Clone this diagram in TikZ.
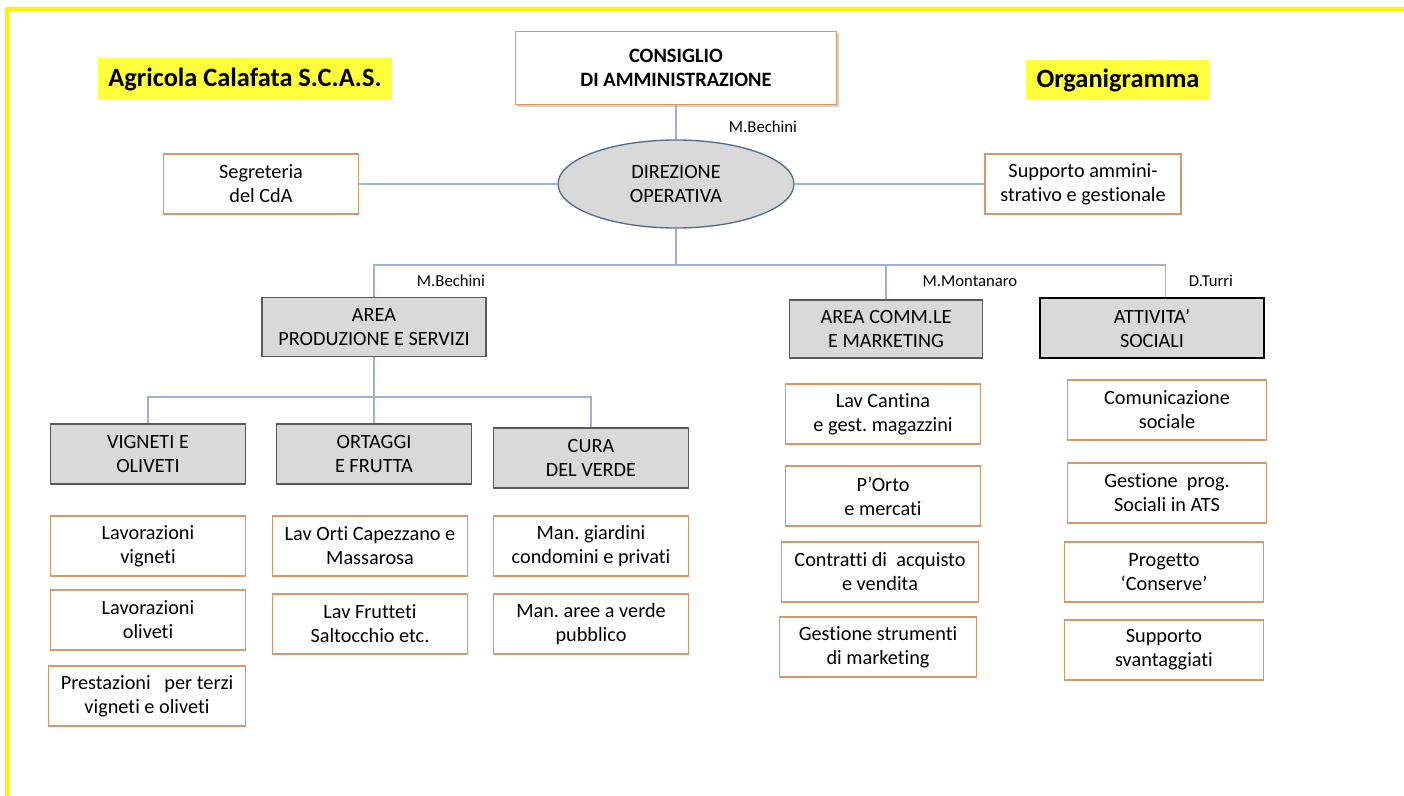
\documentclass[tikz,border=0pt]{standalone}
\usepackage{fontspec}
\setmainfont{Carlito}[Ligatures={TeX,NoCommon}]
\frenchspacing
\usepackage{tikz}
\usetikzlibrary{shapes.geometric, shadows}

\definecolor{boxOrange}{RGB}{217,150,104}
\definecolor{boxGray}{RGB}{217,217,217}
\definecolor{lineBlue}{RGB}{155,180,212}
\definecolor{ellBorder}{RGB}{80,108,150}
\definecolor{titleYellow}{RGB}{255,255,60}

\begin{document}
\begin{tikzpicture}[x=0.75pt, y=-0.75pt]
  \tikzstyle{myBox}=[draw=boxOrange, line width=1.1pt, fill=white, align=center, minimum width=146pt, minimum height=45pt, inner sep=1pt, font=\fontsize{15.2}{18}\selectfont]
  \tikzstyle{myArea}=[myBox, draw=black!65, line width=0.9pt, fill=boxGray]
  \tikzstyle{myTitle}=[fill=titleYellow, inner sep=0pt, font=\fontsize{19.8}{23}\selectfont\bfseries]
  \tikzstyle{myName}=[font=\fontsize{12.5}{15}\selectfont]
  \tikzstyle{myLine}=[draw=lineBlue, line width=1pt]

  \useasboundingbox (0,0) rectangle (1404,796);
  \fill[white] (0,0) rectangle (1404,796);
  \draw[yellow, line width=3pt] (1404,9) -- (7,9) -- (7,796);

  % titoli
  \node[myTitle, minimum width=221pt, minimum height=31.5pt] (titolo) at (245,79) {Agricola Calafata S.C.A.S.};
  \node[myTitle, minimum width=138pt, minimum height=30pt] (organigramma) at (1118,80) {Organigramma};

  % vertice
  \node[myBox, minimum width=241pt, minimum height=55pt, font=\fontsize{15.3}{18}\selectfont\bfseries,
        drop shadow={opacity=0.35, shadow xshift=1.5pt, shadow yshift=-1.5pt}] (cda) at (676,68) {CONSIGLIO\\DI AMMINISTRAZIONE};
  \node[ellipse, draw=ellBorder, fill=boxGray, line width=1pt, minimum width=177pt, minimum height=66pt,
        align=center, font=\fontsize{15.2}{18}\selectfont] (dir) at (676,184) {DIREZIONE\\OPERATIVA};
  \node[myBox] (segr) at (261,184) {Segreteria\\del CdA};
  \node[myBox, minimum width=147pt] (supp) at (1083,184) {Supporto ammini-\\strativo e gestionale};

  % aree
  \node[myArea, minimum width=168pt, minimum height=44pt] (prod) at (374,327) {AREA\\PRODUZIONE E SERVIZI};
  \node[myArea, minimum width=145pt, minimum height=43.5pt] (comm) at (886,329) {AREA COMM.LE\\E MARKETING};
  \node[myArea, draw=black, line width=2pt, minimum width=168pt] (soc) at (1152,328) {ATTIVITA’\\SOCIALI};

  \node[myArea] (vign) at (148,454) {VIGNETI E\\OLIVETI};
  \node[myArea] (ort) at (374,454) {ORTAGGI\\E FRUTTA};
  \node[myArea] (cura) at (591,458) {CURA\\DEL VERDE};

  % attivita
  \node[myBox] (lavVigneti) at (148,546) {Lavorazioni\\vigneti};
  \node[myBox] (lavOliveti) at (148,620) {Lavorazioni\\oliveti};
  \node[myBox, minimum width=148pt] (prestazioni) at (147,696) {Prestazioni~~ per terzi\\vigneti e oliveti};
  \node[myBox] (lavOrti) at (370,546) {Lav Orti Capezzano e\\Massarosa};
  \node[myBox] (lavFrutteti) at (370,624) {Lav Frutteti\\Saltocchio etc.};
  \node[myBox] (manGiardini) at (591,546) {Man. giardini\\condomini e privati};
  \node[myBox] (manAree) at (591,624) {Man. aree a verde\\pubblico};

  \node[myBox] (lavCantina) at (883,414) {Lav Cantina\\e gest. magazzini};
  \node[myBox] (pOrto) at (883,496) {P’Orto\\e mercati};
  \node[myBox, minimum width=148pt] (contratti) at (880,572) {Contratti di~ acquisto\\e vendita};
  \node[myBox, minimum width=148pt] (strumenti) at (878,647) {Gestione strumenti\\di marketing};

  \node[myBox, minimum width=149pt] (comunicazione) at (1167,410) {Comunicazione\\sociale};
  \node[myBox, minimum width=149pt] (gestProg) at (1167,493) {Gestione~ prog.\\Sociali in ATS};
  \node[myBox, minimum width=149pt] (progetto) at (1164,572) {Progetto\\‘Conserve’};
  \node[myBox, minimum width=149pt] (svantaggiati) at (1164,650) {Supporto\\svantaggiati};

  % responsabili
  \node[myName] (nomeDir) at (763,127) {M.Bechini};
  \node[myName] (nomeProd) at (451,281) {M.Bechini};
  \node[myName] (nomeComm) at (970,281) {M.Montanaro};
  \node[myName] (nomeSoc) at (1211,281) {D.Turri};

  % collegamenti
  \coordinate (busTop) at (676,265);
  \coordinate (busProd) at (374,397);
  \draw[myLine] (cda) -- (dir);
  \draw[myLine] (segr) -- (dir);
  \draw[myLine] (dir) -- (supp);
  \draw[myLine] (dir) -- (busTop);
  \draw[myLine] (prod) |- (busTop) -| ([xshift=10pt]soc.north);
  \draw[myLine] (comm) |- (busTop);
  \draw[myLine] (prod) -- (busProd);
  \draw[myLine] (vign) |- (busProd) -| (cura);
  \draw[myLine] (ort) -- (busProd);
\end{tikzpicture}
\end{document}
